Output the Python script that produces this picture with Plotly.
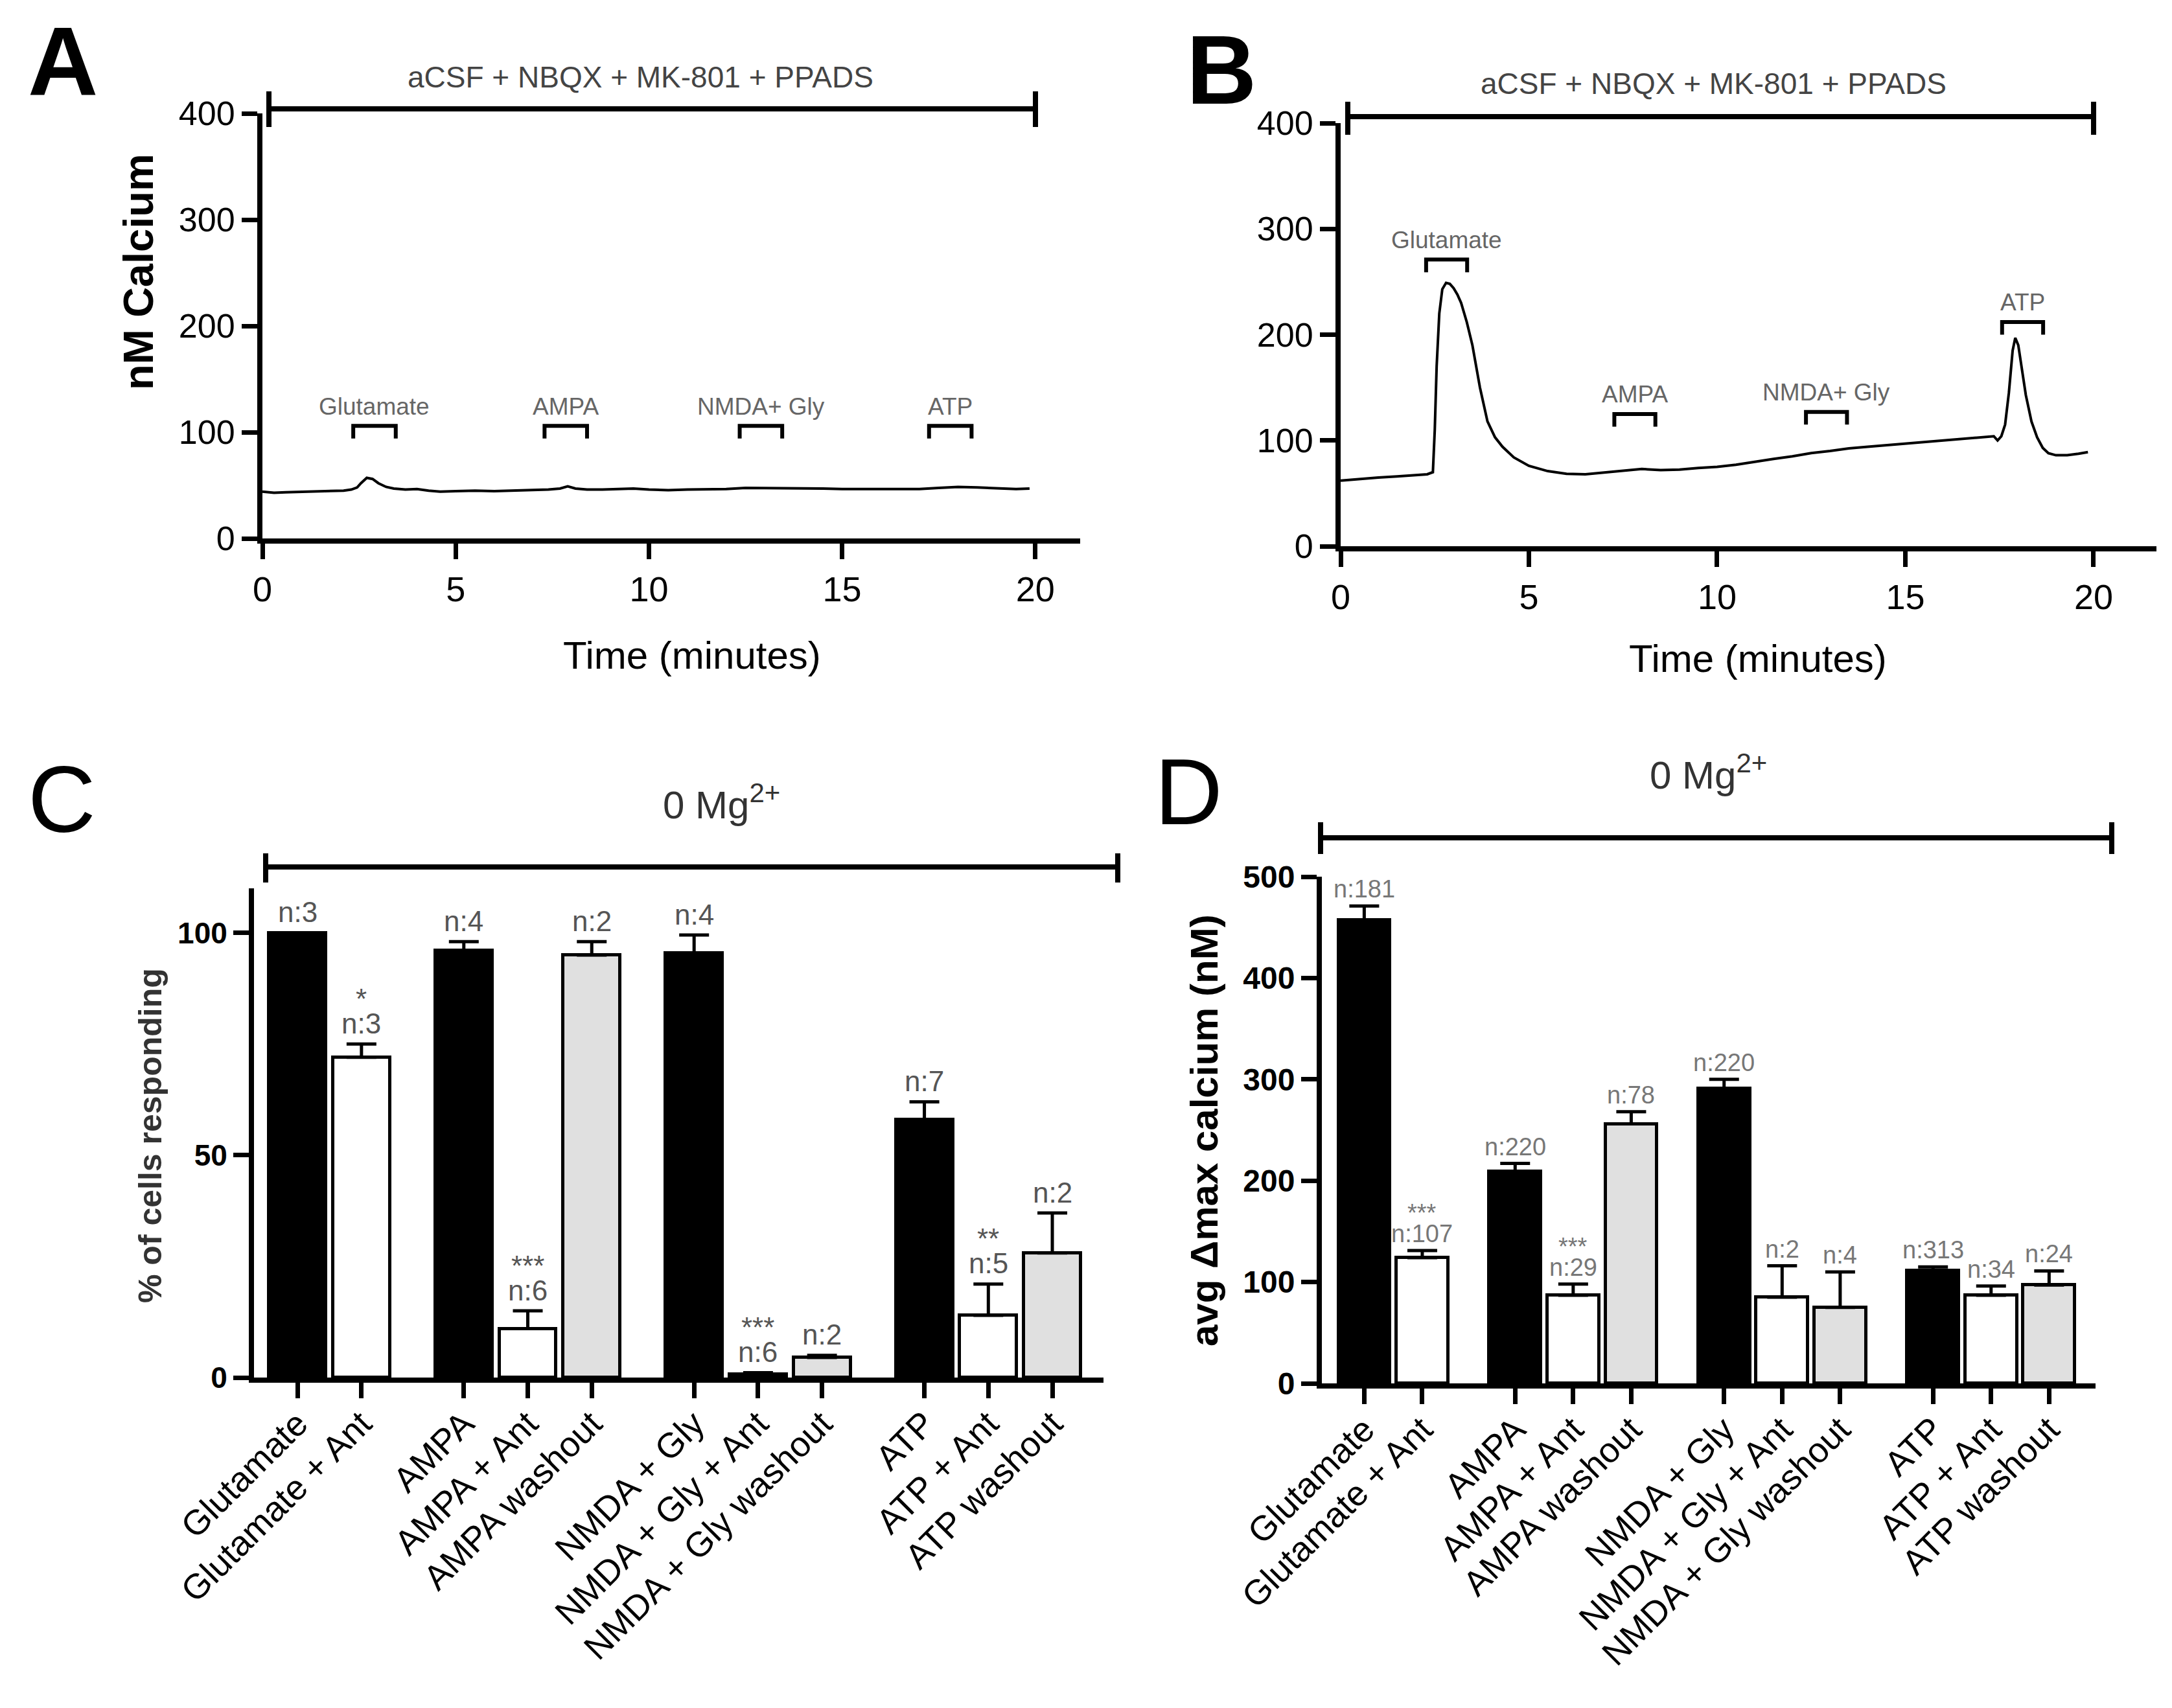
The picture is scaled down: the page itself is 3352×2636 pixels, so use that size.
import plotly.graph_objects as go

W, H = 3352, 2636
FONT = "Liberation Sans, Arial, Helvetica, sans-serif"

# ---------------- Panel A / B : calcium traces ----------------
a_time = [0.0, 0.3, 0.6, 1.0, 1.4, 1.8, 2.1, 2.3, 2.45, 2.55, 2.7, 2.85, 3.0, 3.2, 3.4, 3.7,
          4.0, 4.3, 4.6, 5.0, 5.5, 6.0, 6.5, 7.0, 7.4, 7.7, 7.9, 8.1, 8.4, 8.8, 9.2, 9.6,
          10.0, 10.5, 11.0, 11.5, 12.0, 12.5, 13.0, 13.5, 14.0, 14.5, 15.0, 15.5, 16.0,
          16.5, 17.0, 17.5, 18.0, 18.5, 19.0, 19.5, 19.85]
a_ca = [44, 43, 43.5, 44, 44.5, 44.5, 45, 46, 48, 52, 57, 56, 52, 48.5, 47, 46,
        46.5, 45, 44, 44.5, 45, 44.5, 45, 45.5, 46, 47, 49, 47, 46, 46, 46.5, 47,
        46, 45.5, 46, 46, 46.5, 47.5, 47.5, 47, 47, 47, 46.5, 46.5, 46.5,
        46, 46.5, 47.5, 48.5, 48, 47, 46.5, 47]

b_time = [0.0, 0.3, 0.7, 1.0, 1.5, 2.0, 2.3, 2.45, 2.5, 2.55, 2.62, 2.7, 2.8, 2.9, 3.0, 3.1,
          3.2, 3.35, 3.5, 3.7, 3.9, 4.1, 4.3, 4.6, 5.0, 5.5, 6.0, 6.5, 7.0, 7.5, 8.0, 8.5,
          9.0, 9.5, 10.0, 10.5, 11.0, 11.5, 12.0, 12.5, 13.0, 13.5, 14.0, 14.5, 15.0, 15.5,
          16.0, 16.5, 17.0, 17.35, 17.45, 17.55, 17.65, 17.75, 17.85, 17.92, 18.0, 18.1,
          18.2, 18.35, 18.5, 18.65, 18.8, 19.0, 19.3, 19.6, 19.85]
b_ca = [62, 63, 64, 65, 66, 67, 68, 70, 110, 170, 220, 243, 249, 248, 244, 238,
        230, 212, 190, 150, 118, 103, 94, 84, 76, 71, 68.5, 68, 69.5, 71, 73, 72,
        72.5, 74, 75, 77, 80, 82.5, 85, 88, 90, 92.5, 94, 95.5, 97.5, 99,
        100.5, 102, 103.5, 104, 100, 104, 115, 145, 185, 197, 190, 165,
        143, 118, 103, 93, 88, 86, 86, 87.5, 89]

drug_labels = ["Glutamate", "AMPA", "NMDA+ Gly", "ATP"]
a_windows = [(2.35, 3.45), (7.3, 8.4), (12.35, 13.45), (17.25, 18.35)]
b_windows = [(2.27, 3.36), (7.27, 8.36), (12.36, 13.45), (17.57, 18.66)]
a_bracket_top = [106, 106, 106, 106]
b_bracket_top = [271, 125, 127, 212]

trace_ticks = [0, 5, 10, 15, 20]
ca_ticks = [0, 100, 200, 300, 400]

# ---------------- Panel C / D : bar charts ----------------
categories = ["Glutamate", "Glutamate + Ant", "AMPA", "AMPA + Ant", "AMPA washout",
              "NMDA + Gly", "NMDA + Gly + Ant", "NMDA + Gly washout",
              "ATP", "ATP + Ant", "ATP washout"]
groups = [0, 0, 1, 1, 1, 2, 2, 2, 3, 3, 3]
kinds = ["agonist", "ant", "agonist", "ant", "washout", "agonist", "ant", "washout",
         "agonist", "ant", "washout"]

pct_mean = [100, 72, 96, 11, 95, 95.5, 0.8, 4.5, 58, 14, 28]
pct_sem = [0, 3, 2, 4, 3, 4, 0.3, 0.5, 4, 7, 9]
pct_n = [3, 3, 4, 6, 2, 4, 6, 2, 7, 5, 2]
pct_sig = ["", "*", "", "***", "", "", "***", "", "", "**", ""]
pct_ticks = [0, 50, 100]

dca_mean = [457, 124, 209, 87, 256, 291, 85, 75, 111, 87, 97]
dca_sem = [14, 7, 8, 11, 12, 9, 31, 35, 4, 9, 14]
dca_n = [181, 107, 220, 29, 78, 220, 2, 4, 313, 34, 24]
dca_sig = ["", "***", "", "***", "", "", "", "", "", "", ""]
dca_ticks = [0, 100, 200, 300, 400, 500]

kind_fill = {"agonist": "#000000", "ant": "#ffffff", "washout": "#e0e0e0"}

# bar positions: consecutive within group, extra gap between groups
GAP = 0.6
positions = [i + GAP * g for i, g in enumerate(groups)]
fills = [kind_fill[k] for k in kinds]


def px_x(x):
    return x / W


def px_y(y):
    return 1 - y / H


fig = go.Figure()

# traces A, B
fig.add_trace(go.Scatter(x=a_time, y=a_ca, mode="lines", xaxis="x", yaxis="y",
                         line=dict(color="black", width=4), showlegend=False))
fig.add_trace(go.Scatter(x=b_time, y=b_ca, mode="lines", xaxis="x2", yaxis="y2",
                         line=dict(color="black", width=4), showlegend=False))

# bars C, D
fig.add_trace(go.Bar(x=positions, y=pct_mean, xaxis="x3", yaxis="y3", width=0.89,
                     marker=dict(color=fills, line=dict(color="black", width=5)),
                     error_y=dict(type="data", array=pct_sem, arrayminus=[0] * len(pct_sem),
                                  symmetric=False, color="black", thickness=5, width=23),
                     showlegend=False))
fig.add_trace(go.Bar(x=positions, y=dca_mean, xaxis="x4", yaxis="y4", width=0.89,
                     marker=dict(color=fills, line=dict(color="black", width=5)),
                     error_y=dict(type="data", array=dca_sem, arrayminus=[0] * len(dca_sem),
                                  symmetric=False, color="black", thickness=5, width=23),
                     showlegend=False))

axis_common = dict(showgrid=False, zeroline=False, showline=True, linecolor="black",
                   linewidth=8, ticks="outside", tickcolor="black", tickwidth=7,
                   ticklen=24, fixedrange=True, automargin=False)

layout = dict(
    template="none",
    width=W, height=H, margin=dict(l=0, r=0, t=0, b=0, autoexpand=False),
    paper_bgcolor="white", plot_bgcolor="white",
    font=dict(family=FONT, color="black"),
    bargap=0, showlegend=False,
    xaxis=dict(axis_common, domain=[px_x(397), px_x(1659)], range=[0, 21.16],
               anchor="y", tickvals=trace_ticks,
               tickfont=dict(size=54, family=FONT, color="black")),
    yaxis=dict(axis_common, domain=[px_y(823), px_y(167)], range=[0, 400],
               anchor="x", tickvals=ca_ticks,
               tickfont=dict(size=52, family=FONT, color="black")),
    xaxis2=dict(axis_common, domain=[px_x(2061), px_x(3320)], range=[0, 21.67],
                anchor="y2", tickvals=trace_ticks,
                tickfont=dict(size=54, family=FONT, color="black")),
    yaxis2=dict(axis_common, domain=[px_y(835), px_y(182)], range=[0, 400],
                anchor="x2", tickvals=ca_ticks,
                tickfont=dict(size=52, family=FONT, color="black")),
    xaxis3=dict(axis_common, domain=[px_x(384), px_x(1695)], range=[-0.68, 12.6],
                anchor="y3", tickvals=positions, ticktext=categories, tickangle=-45,
                ticklabelstandoff=-14,
                tickfont=dict(size=54, family=FONT, color="black")),
    yaxis3=dict(axis_common, domain=[px_y(2118), px_y(1363)], range=[0, 110],
                anchor="x3", tickvals=pct_ticks,
                tickfont=dict(size=46, family=FONT, color="black", weight="bold")),
    xaxis4=dict(axis_common, domain=[px_x(2032), px_x(3226)], range=[-0.73, 12.6],
                anchor="y4", tickvals=positions, ticktext=categories, tickangle=-45,
                ticklabelstandoff=-14,
                tickfont=dict(size=54, family=FONT, color="black")),
    yaxis4=dict(axis_common, domain=[px_y(2127), px_y(1345)], range=[0, 500],
                anchor="x4", tickvals=dca_ticks,
                tickfont=dict(size=48, family=FONT, color="black", weight="bold")),
)
fig.update_layout(**layout)

shapes = []
annotations = []


def hline_paper(x0, x1, y, w=8):
    shapes.append(dict(type="line", xref="paper", yref="paper", x0=px_x(x0), x1=px_x(x1),
                       y0=px_y(y), y1=px_y(y), line=dict(color="black", width=w)))


def vline_paper(x, y0, y1, w=8):
    shapes.append(dict(type="line", xref="paper", yref="paper", x0=px_x(x), x1=px_x(x),
                       y0=px_y(y0), y1=px_y(y1), line=dict(color="black", width=w)))


def title_bar(x0, x1, y, cap0, cap1):
    hline_paper(x0, x1, y)
    vline_paper(x0, cap0, cap1)
    vline_paper(x1, cap0, cap1)


def paper_text(x, y, text, size, color="black", bold=False, angle=0):
    annotations.append(dict(xref="paper", yref="paper", x=px_x(x), y=px_y(y), text=text,
                            showarrow=False, xanchor="center", yanchor="middle",
                            textangle=angle,
                            font=dict(size=size, color=color, family=FONT,
                                      weight="bold" if bold else "normal")))


# top bars + texts
title_bar(407, 1590, 160, 133, 188)
paper_text(980, 111, "aCSF + NBQX + MK-801 + PPADS", 46, "#444444")
title_bar(2072, 3223, 172, 149, 200)
paper_text(2636, 121, "aCSF + NBQX + MK-801 + PPADS", 46, "#444444")
title_bar(402, 1717, 1330, 1309, 1354)
paper_text(1105, 1230, "0 Mg<sup>2+</sup>", 60, "#333333")
title_bar(2030, 3251, 1285, 1261, 1310)
paper_text(2628, 1184, "0 Mg<sup>2+</sup>", 60, "#333333")

# panel letters
paper_text(89, 86, "A", 150, bold=True)
paper_text(1877, 100, "B", 150, bold=True)
paper_text(87, 1226, "C", 145)
paper_text(1827, 1214, "D", 145)

# axis titles
paper_text(205, 412, "nM Calcium", 65, bold=True, angle=-90)
paper_text(1060, 1003, "Time (minutes)", 60)
paper_text(2705, 1009, "Time (minutes)", 60)
paper_text(224, 1745, "% of cells responding", 50, "#333333", bold=True, angle=-90)
paper_text(1850, 1737, "avg Δmax calcium (nM)", 60, bold=True, angle=-90)


# drug application brackets
def brackets(xref, yref, windows, tops, leg):
    for (t0, t1), top, lab in zip(windows, tops, drug_labels):
        shapes.append(dict(type="path", xref=xref, yref=yref,
                           path=f"M {t0},{top - leg} L {t0},{top} L {t1},{top} L {t1},{top - leg}",
                           line=dict(color="black", width=6)))
        annotations.append(dict(xref=xref, yref=yref, x=(t0 + t1) / 2, y=top, text=lab,
                                showarrow=False, xanchor="center", yanchor="middle",
                                yshift=30, font=dict(size=37, color="#666666", family=FONT)))


brackets("x", "y", a_windows, a_bracket_top, 12)
brackets("x2", "y2", b_windows, b_bracket_top, 12)


# n labels / significance
def bar_labels(xref, yref, means, sems, ns, sigs, size, color, shift, star_gap):
    for p, m, s, n, sig in zip(positions, means, sems, ns, sigs):
        annotations.append(dict(xref=xref, yref=yref, x=p, y=m + s, text=f"n:{n}",
                                showarrow=False, xanchor="center", yanchor="middle",
                                yshift=shift, font=dict(size=size, color=color, family=FONT)))
        if sig:
            annotations.append(dict(xref=xref, yref=yref, x=p, y=m + s, text=sig,
                                    showarrow=False, xanchor="center", yanchor="middle",
                                    yshift=shift + star_gap,
                                    font=dict(size=size, color=color, family=FONT)))


bar_labels("x3", "y3", pct_mean, pct_sem, pct_n, pct_sig, 44, "#555555", 32, 38)
bar_labels("x4", "y4", dca_mean, dca_sem, dca_n, dca_sig, 38, "#777777", 26, 32)

fig.update_layout(shapes=shapes, annotations=annotations)
fig.write_html("out.html")
